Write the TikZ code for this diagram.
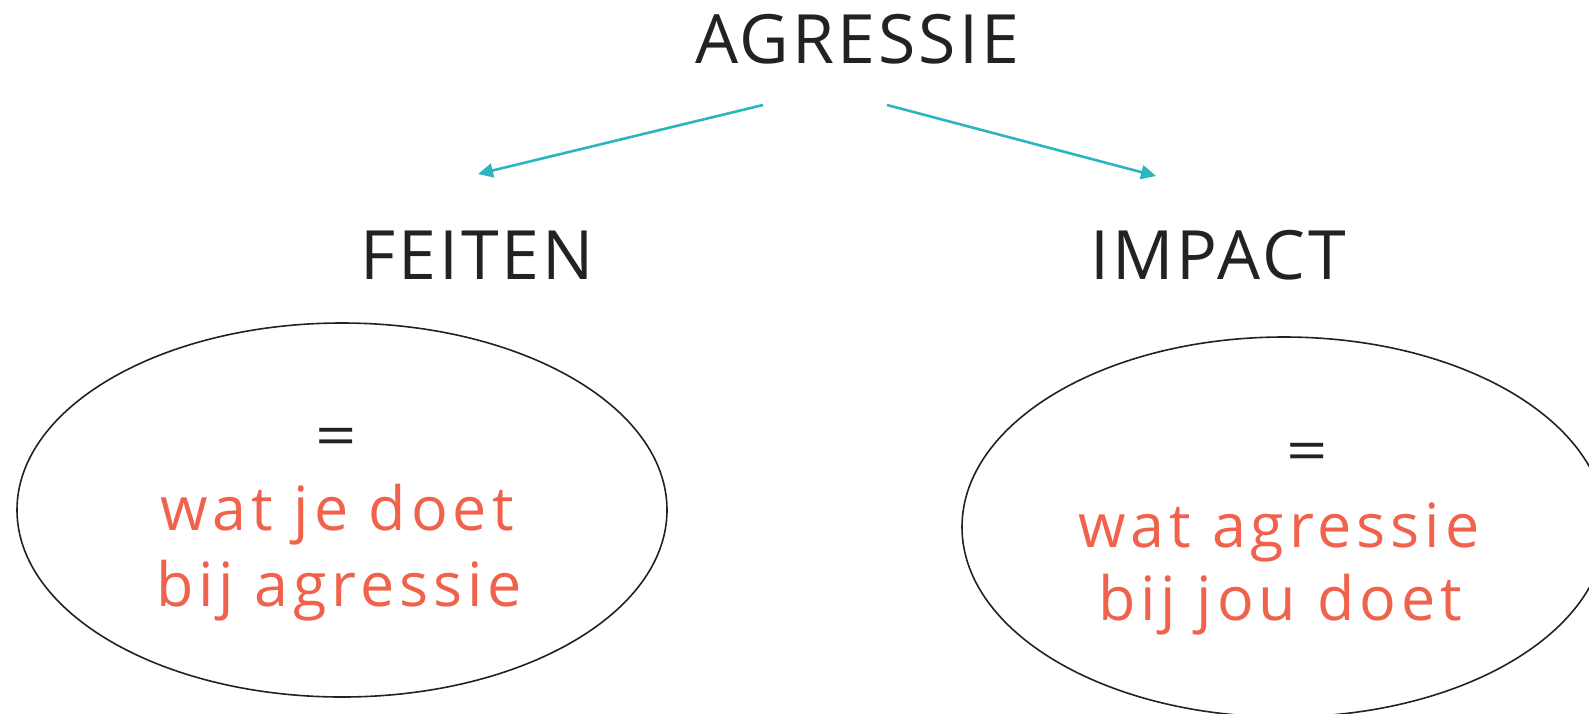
\documentclass[tikz,border=0pt]{standalone}
\usepackage{fontspec}
\setmainfont{Open Sans}
\usetikzlibrary{arrows.meta,shapes.geometric}
\definecolor{teal}{HTML}{2BB5C0}
\definecolor{coral}{HTML}{F0624B}
\definecolor{ink}{HTML}{222222}
\tikzset{
  title/.style={anchor=base, text=ink, font=\fontsize{68}{80}\selectfont\addfontfeatures{LetterSpace=4.5}},
  note/.style={anchor=base, text=coral, font=\fontsize{61}{70}\selectfont\addfontfeatures{LetterSpace=8}},
  equal/.style={text=ink, xscale=1.25, font=\fontsize{58}{70}\selectfont},
  bubble/.style={ellipse, draw=ink, line width=1.6pt, inner sep=0pt},
  link/.style={-{Triangle[length=15pt,width=14pt]}, draw=teal, line width=2.6pt}
}
\begin{document}
\begin{tikzpicture}[x=1pt,y=-1pt]
                \clip (0,0) rectangle (1589,713);

                %titles first
                \node[title] (agr) at (857,63) {AGRESSIE};
                \node[title] (feiten) at (477,279) {FEITEN};
                \node[title] (impact) at (1218,279) {IMPACT};

                %end points of the two arrows
                \coordinate (agrL) at (763,105);
                \coordinate (agrR) at (887,105);
                \coordinate (feitenTop) at (478,174);
                \coordinate (impactTop) at (1156,176);
                \draw[link] (agrL) -- (feitenTop);
                \draw[link] (agrR) -- (impactTop);

                %left ellipse
                \node[bubble, minimum width=650pt, minimum height=374pt] (lbub) at (342,510) {};
                \node[equal] (lEq) at (336,442) {=};
                \node[note] (lLineA) at (337,530) {wat je doet};
                \node[note] (lLineB) at (339,606) {bij agressie};

                %right ellipse, cut off by the border
                \node[bubble, minimum width=644pt, minimum height=380pt] (rbub) at (1284,527) {};
                \node[equal] (rEq) at (1307,457) {=};
                \node[note] (rLineA) at (1279,547) {wat agressie};
                \node[note] (rLineB) at (1280,620) {bij jou doet};
            \end{tikzpicture}
\end{document}
